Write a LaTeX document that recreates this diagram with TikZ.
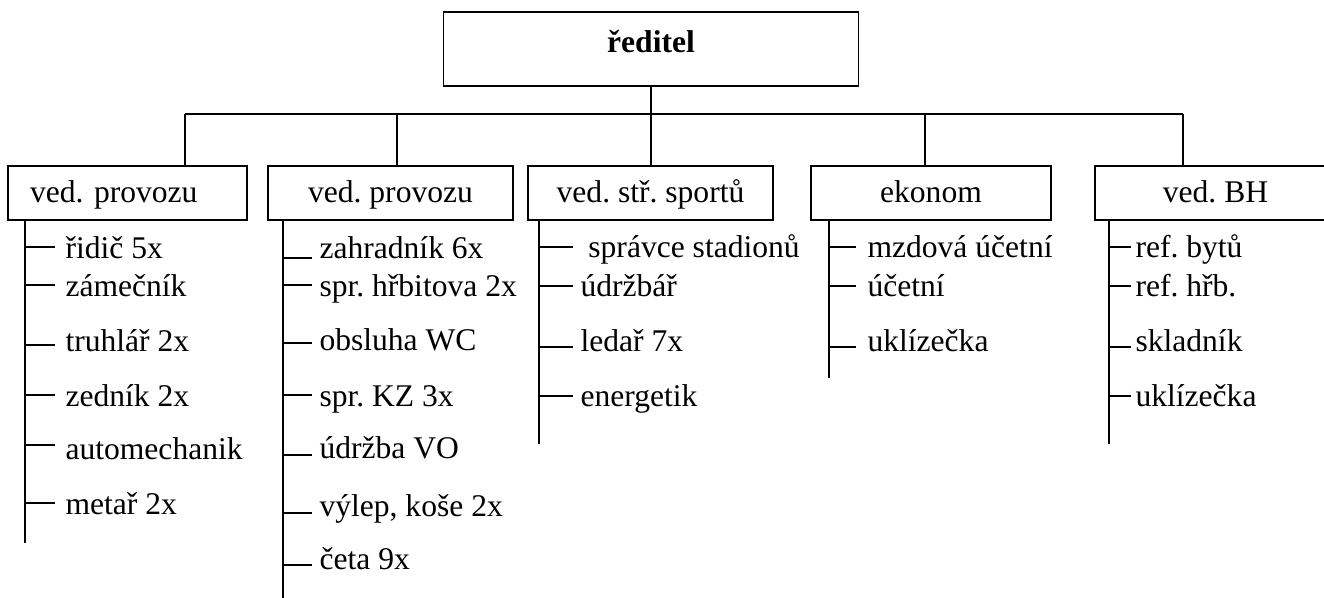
\documentclass[tikz,border=0pt]{standalone}
\usepackage{fontspec}
\setmainfont{Liberation Serif}
\usetikzlibrary{positioning}
\frenchspacing

\newcommand\px{0.38pt}
\tikzset{
  boss/.style={draw, line width=0.75pt, minimum width=415*\px, minimum height=74*\px,
    text height=10pt, text depth=7pt, font=\fontsize{12}{14}\selectfont\bfseries},
  unit/.style={draw, line width=0.75pt, minimum height=54*\px, inner ysep=1pt,
    text height=9pt, text depth=1.4pt},
  staff/.style={anchor=west, inner ysep=0pt, text height=10pt, text depth=0.9pt},
  link/.style={line width=0.75pt}
}

\begin{document}
\begin{tikzpicture}[x=0.38pt, y={(0pt,-0.38pt)}, font=\fontsize{12}{14}\selectfont]
\useasboundingbox (0,0) rectangle (1324,598);

\node[boss] (reditel) at (651,49) {ředitel};

\node[unit, text width=195*\px, inner xsep=22*\px, align=left] (b1) at (127.5,193) {ved. provozu};
\node[unit, minimum width=245*\px] (b2) at (390.5,193) {ved. provozu};
\node[unit, minimum width=245*\px] (b3) at (650.5,193) {ved. stř. sportů};
\node[unit, minimum width=240*\px] (b4) at (931,193) {ekonom};
\node[unit, minimum width=241*\px] (b5) at (1215.5,193) {ved. BH};

% bus line
\coordinate (t1) at (185,114);
\coordinate (t2) at (397,114);
\coordinate (t3) at (651,114);
\coordinate (t4) at (925,114);
\coordinate (t5) at (1183,114);
\draw[link] (t1) -- (t5);
\draw[link] (reditel.south) -- (t3);
\foreach \i in {1,...,5}
  \draw[link] (t\i) -- (t\i |- b\i.north);

% trunks
\coordinate (k1) at (25,220);   \coordinate (e1) at (25,543);
\coordinate (k2) at (283,220);  \coordinate (e2) at (283,598);
\coordinate (k3) at (539,220);  \coordinate (e3) at (539,444);
\coordinate (k4) at (829,220);  \coordinate (e4) at (829,378);
\coordinate (k5) at (1109,220); \coordinate (e5) at (1109,444);
\foreach \i in {1,...,5}
  \draw[link] (k\i) -- (e\i);

% staff under each box
\foreach \n/\t/\b/\txt in {1/247/259/{řidič 5x}, 2/285/297/{zámečník}, 3/345/352/{truhlář 2x},
    4/395/407/{zedník 2x}, 5/445/460/{automechanik}, 6/503/515/{metař 2x}}{
  \coordinate (a1\n) at (25,\t);
  \node[staff, inner xsep=10*\px] (p1\n) at (55,\b-12) {\txt};
  \draw[link] (a1\n) -- (a1\n -| p1\n.west);
}
\foreach \n/\t/\b/\txt in {1/258/259/{zahradník 6x}, 2/285/297/{spr. hřbitova 2x}, 3/343/351/{obsluha WC},
    4/395/407/{spr. KZ 3x}, 5/455/459/{údržba VO}, 6/513/517/{výlep, koše 2x}, 7/565/570/{četa 9x}}{
  \coordinate (a2\n) at (283,\t);
  \node[staff, inner xsep=7*\px] (p2\n) at (312,\b-12) {\txt};
  \draw[link] (a2\n) -- (a2\n -| p2\n.west);
}
\foreach \n/\t/\b/\txt in {1/247/258/{\ správce stadionů}, 2/286/297/{údržbář}, 3/347/352/{ledař 7x},
    4/396/407/{energetik}}{
  \coordinate (a3\n) at (539,\t);
  \node[staff, inner xsep=7*\px] (p3\n) at (573,\b-12) {\txt};
  \draw[link] (a3\n) -- (a3\n -| p3\n.west);
}
\foreach \n/\t/\b/\txt in {1/247/258/{mzdová účetní}, 2/286/297/{účetní}, 3/347/352/{uklízečka}}{
  \coordinate (a4\n) at (829,\t);
  \node[staff, inner xsep=11*\px] (p4\n) at (856,\b-12) {\txt};
  \draw[link] (a4\n) -- (a4\n -| p4\n.west);
}
\foreach \n/\t/\b/\txt in {1/247/258/{ref. bytů}, 2/286/297/{ref. hřb.}, 3/347/352/{skladník},
    4/396/407/{uklízečka}}{
  \coordinate (a5\n) at (1109,\t);
  \node[staff, inner xsep=4*\px] (p5\n) at (1131,\b-12) {\txt};
  \draw[link] (a5\n) -- (a5\n -| p5\n.west);
}
\end{tikzpicture}
\end{document}
